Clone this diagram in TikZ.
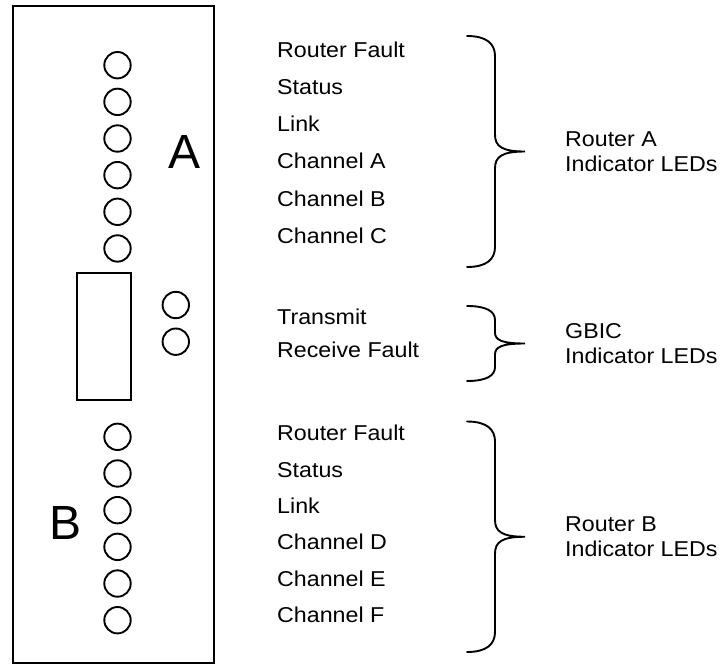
\documentclass[tikz,border=0pt]{standalone}
\usepackage{fontspec}
\setmainfont{Liberation Sans}
\newfontfamily\lblfont[FakeStretch=1.08]{Liberation Sans}

% curly brace opening to the right: top y, bottom y, end arc size, tip arc size
\newcommand\ledbrace[5]{%
  \pgfmathsetmacro\bracemid{(#1+#2)/2}
  \coordinate (#5) at (525,\bracemid);
  \draw[outline,line cap=round]
    (467,#1) .. controls (487,#1) and (495,#1+0.4*#3) .. (495,#1+#3)
    -- (495,\bracemid-#4)
    .. controls (495,\bracemid-0.3*#4) and (502,\bracemid) .. (#5)
    .. controls (502,\bracemid) and (495,\bracemid+0.3*#4) .. (495,\bracemid+#4)
    -- (495,#2-#3)
    .. controls (495,#2-0.4*#3) and (487,#2) .. (467,#2);
}

\begin{document}
\begin{tikzpicture}[x=1pt,y=-1pt,
  outline/.style={draw,line width=1.9pt},
  box/.style={outline,inner sep=0pt},
  led/.style={circle,outline,minimum size=26.4pt,inner sep=0pt},
  lbl/.style={anchor=base west,inner sep=0pt,font=\lblfont\fontsize{21.5}{25}\selectfont},
  big/.style={anchor=base,inner sep=0pt,font=\fontsize{48}{52}\selectfont}]
\useasboundingbox (0,0) rectangle (724,665);

% front panel and GBIC port
\node[box,minimum width=201pt,minimum height=657.3pt] (panel) at (113.2,334.35) {};
\node[box,minimum width=54.4pt,minimum height=127.5pt] (port) at (104,336.3) {};

% router A LEDs
\foreach \i in {1,...,6}
  \node[led] (a\i) at (117.5,{65.2+36.65*(\i-1)}) {};
% GBIC LEDs
\node[led] (g1) at (175.8,305) {};
\node[led] (g2) at (175.8,341.7) {};
% router B LEDs
\foreach \i in {1,...,6}
  \node[led] (b\i) at (117.5,{436.8+36.68*(\i-1)}) {};

\node[big] (letA) at (184.5,168.5) {A};
\node[big] (letB) at (66,539) {B};

% LED names
\foreach \t [count=\i] in {Router Fault,Status,Link,Channel A,Channel B,Channel C}
  \node[lbl] (la\i) at (277,{57.2+37.2*(\i-1)}) {\t};
\node[lbl] (lg1) at (277,324.7) {Transmit};
\node[lbl] (lg2) at (277,357.2) {Receive Fault};
\foreach \t [count=\i] in {Router Fault,Status,Link,Channel D,Channel E,Channel F}
  \node[lbl] (lb\i) at (277,{440.7+36.4*(\i-1)}) {\t};

% group braces
\ledbrace{36}{267}{20}{17}{tipA}
\ledbrace{306}{381}{14}{11}{tipG}
\ledbrace{421.5}{652}{20}{17}{tipB}

% group names, two lines beside each brace tip
\node[lbl] (ra1) at ([xshift=40pt,yshift=4.8pt]tipA) {Router A};
\node[lbl] (ra2) at ([xshift=40pt,yshift=-20.2pt]tipA) {Indicator LEDs};
\node[lbl] (rg1) at ([xshift=40pt,yshift=4.8pt]tipG) {GBIC};
\node[lbl] (rg2) at ([xshift=40pt,yshift=-20.2pt]tipG) {Indicator LEDs};
\node[lbl] (rb1) at ([xshift=40pt,yshift=4.8pt]tipB) {Router B};
\node[lbl] (rb2) at ([xshift=40pt,yshift=-20.2pt]tipB) {Indicator LEDs};
\end{tikzpicture}
\end{document}
